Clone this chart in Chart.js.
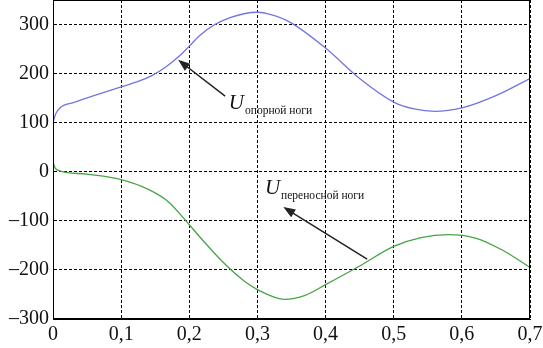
<!DOCTYPE html>
<html lang="ru">
<head>
<meta charset="UTF-8">
<title>U</title>
<script src="https://cdn.jsdelivr.net/npm/chart.js@4"></script>
<style>
    html, body { margin: 0; padding: 0; background: #fff; }
    #wrap { width: 543px; height: 348px; }
</style>
</head>
<body>
<div id="wrap"><canvas id="c"></canvas></div>
<script>
// время, с
const tSupport = [0, 0.004, 0.01, 0.03, 0.06, 0.1, 0.125, 0.145, 0.165, 0.187, 0.2, 0.215, 0.235, 0.26, 0.28, 0.3, 0.32, 0.35, 0.4, 0.45, 0.5, 0.53, 0.56, 0.6, 0.65, 0.7];
const uSupport = [100, 118, 130, 141, 155, 173, 184, 196, 213, 238, 256, 277, 298, 314, 322, 325, 320, 303, 252, 190, 142, 128, 123, 130, 155, 190];

const tSwing = [0, 0.003, 0.01, 0.05, 0.1, 0.14, 0.17, 0.19, 0.2, 0.22, 0.25, 0.28, 0.3, 0.34, 0.37, 0.4, 0.45, 0.5, 0.54, 0.58, 0.62, 0.66, 0.7];
const uSwing = [20, 8, 2, -5, -16, -36, -62, -92, -108, -140, -185, -222, -240, -260, -252, -230, -192, -152, -134, -128, -135, -160, -195];

const xTicks = [0, 0.1, 0.2, 0.3, 0.4, 0.5, 0.6, 0.7];
const yTicks = [-300, -200, -100, 0, 100, 200, 300];

// подписи со стрелками
const labels = [
    { main: 'U', sub: 'опорной ноги', x: 0.258, y: 128, from: [0.2526, 154], to: [0.1836, 228] },
    { main: 'U', sub: 'переносной ноги', x: 0.311, y: -46, from: [0.461, -178], to: [0.338, -72] }
];

const serif = '"Liberation Serif", "DejaVu Serif", serif';

const annotate = {
    id: 'annotate',
    afterDraw(chart) {
        const { ctx, chartArea: a, scales: { x, y } } = chart;
        ctx.save();
        // рамка
        ctx.setLineDash([]);
        ctx.strokeStyle = '#000';
        ctx.lineWidth = 1;
        ctx.strokeRect(a.left + 0.5, a.top + 0.5, a.right - a.left - 1, a.bottom - a.top - 1);

        labels.forEach(l => {
            const x0 = x.getPixelForValue(l.from[0]), y0 = y.getPixelForValue(l.from[1]);
            const x1 = x.getPixelForValue(l.to[0]), y1 = y.getPixelForValue(l.to[1]);
            const ang = Math.atan2(y1 - y0, x1 - x0);
            ctx.strokeStyle = '#222';
            ctx.fillStyle = '#222';
            ctx.lineWidth = 1.5;
            ctx.beginPath();
            ctx.moveTo(x0, y0);
            ctx.lineTo(x1 - 8 * Math.cos(ang), y1 - 8 * Math.sin(ang));
            ctx.stroke();
            ctx.beginPath();
            ctx.moveTo(x1, y1);
            ctx.lineTo(x1 - 12 * Math.cos(ang) + 4.5 * Math.sin(ang), y1 - 12 * Math.sin(ang) - 4.5 * Math.cos(ang));
            ctx.lineTo(x1 - 12 * Math.cos(ang) - 4.5 * Math.sin(ang), y1 - 12 * Math.sin(ang) + 4.5 * Math.cos(ang));
            ctx.closePath();
            ctx.fill();

            const tx = x.getPixelForValue(l.x), ty = y.getPixelForValue(l.y);
            ctx.fillStyle = '#111';
            ctx.textBaseline = 'alphabetic';
            ctx.textAlign = 'left';
            ctx.font = 'italic 21px ' + serif;
            ctx.fillText(l.main, tx, ty);
            const w = ctx.measureText(l.main).width;
            ctx.font = '11.5px ' + serif;
            ctx.fillText(l.sub, tx + w + 1, ty + 5);
        });
        ctx.restore();
    }
};

const fmt = v => String(v).replace('.', ',').replace('-', '\u2013');

const noPad = s => { s.paddingTop = 0; s.paddingBottom = 0; s.paddingLeft = 0; s.paddingRight = 0; };

new Chart(document.getElementById('c'), {
    type: 'scatter',
    data: {
        datasets: [
            {
                data: tSupport.map((t, i) => ({ x: t, y: uSupport[i] })),
                showLine: true, borderColor: '#7474e2', borderWidth: 1.3,
                pointRadius: 0, cubicInterpolationMode: 'monotone', fill: false
            },
            {
                data: tSwing.map((t, i) => ({ x: t, y: uSwing[i] })),
                showLine: true, borderColor: '#45a545', borderWidth: 1.3,
                pointRadius: 0, cubicInterpolationMode: 'monotone', fill: false
            }
        ]
    },
    options: {
        responsive: true,
        maintainAspectRatio: false,
        animation: false,
        layout: { padding: { top: 0, right: 13, left: 0, bottom: 0 } },
        plugins: { legend: { display: false }, tooltip: { enabled: false } },
        scales: {
            x: {
                type: 'linear', min: 0, max: 0.7,
                afterBuildTicks: s => { s.ticks = xTicks.map(v => ({ value: v })); },
                afterFit: s => { s.height = 29; noPad(s); },
                grid: { color: '#000', lineWidth: 1, drawTicks: false },
                border: { display: true, color: '#000', dash: [3, 2] },
                ticks: {
                    color: '#111', padding: 4, maxRotation: 0,
                    font: { family: serif, size: 20 },
                    callback: v => fmt(v)
                }
            },
            y: {
                min: -300, max: 350,
                afterBuildTicks: s => { s.ticks = yTicks.map(v => ({ value: v })); },
                afterFit: s => { s.width = 53; noPad(s); },
                grid: { color: '#000', lineWidth: 1, drawTicks: false },
                border: { display: true, color: '#000', dash: [3, 2] },
                ticks: {
                    color: '#111', padding: 4,
                    font: { family: serif, size: 20 },
                    callback: v => fmt(v)
                }
            }
        }
    },
    plugins: [annotate]
});
</script>
</body>
</html>
